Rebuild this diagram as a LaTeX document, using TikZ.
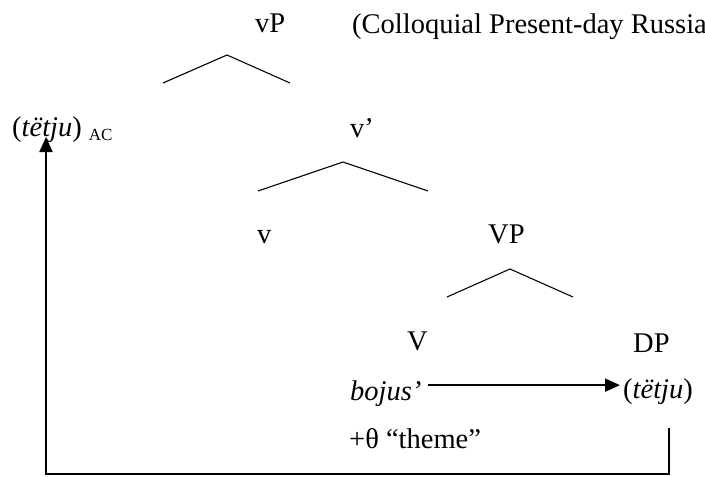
\documentclass[tikz,border=0pt]{standalone}
\usepackage{fontspec}
\setmainfont{Liberation Serif}
\usetikzlibrary{arrows.meta}
\usepackage{xcolor}

\begin{document}
\begin{tikzpicture}[x=1pt, y=-1pt, >={Triangle[length=15pt, width=13pt]},
  lab/.style={anchor=base west, inner sep=0pt, font=\fontsize{28.5}{34}\selectfont},
  branch/.style={line width=1.1pt, draw=black},
  move/.style={->, line width=1.9pt, draw=black}
]
\useasboundingbox (0,0) rectangle (705,477);
\node[lab] (vP) at (255,32) {vP};
\node[lab] (note) at (352,33) {(Colloquial Present-day Russia};
\node[lab] (spec) at (12,136) {(\textit{tëtju})\ \raisebox{-4pt}{\fontsize{17}{18}\selectfont AC}};
\node[lab] (vbar) at (350,137) {v’};
\node[lab] (v) at (257,243) {v};
\node[lab] (VP) at (488,243) {VP};
\node[lab] (V) at (407,350) {V};
\node[lab] (DP) at (633,352) {DP};
\node[lab] (verb) at (350,400) {\textit{bojus’}};
\node[lab] (obj) at (623,398) {(\textit{tëtju})};
\node[lab] (theta) at (349,448) {+θ “theme”};
\coordinate (vPl) at (163,83);
\coordinate (vPa) at (227,55);
\coordinate (vPr) at (290,83);
\coordinate (vbarl) at (258,191);
\coordinate (vbara) at (343,162);
\coordinate (vbarr) at (428,191);
\coordinate (VPl) at (447,297);
\coordinate (VPa) at (510,269);
\coordinate (VPr) at (573,297);
\coordinate (low) at (669,428);
\coordinate (corner) at (46,474);
\coordinate (tip) at (46,137);
\draw[branch] (vPl) -- (vPa) -- (vPr);
\draw[branch] (vbarl) -- (vbara) -- (vbarr);
\draw[branch] (VPl) -- (VPa) -- (VPr);
\draw[move] ([xshift=6pt, yshift=8pt]verb.east) -- ([xshift=-3pt, yshift=6pt]obj.west);
\draw[move] (low) |- (corner) -- (tip);
\end{tikzpicture}
\end{document}
